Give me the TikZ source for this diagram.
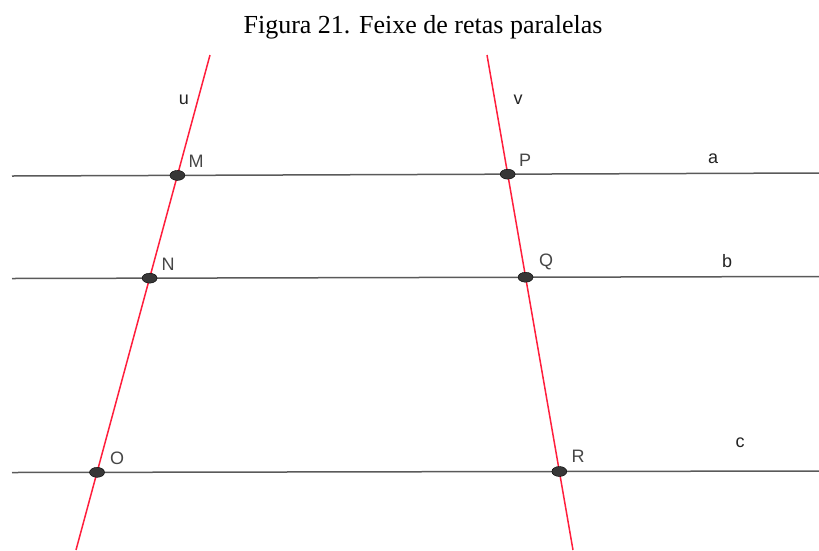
\documentclass[tikz,border=0pt]{standalone}
\usepackage{fontspec}
\setmainfont{Liberation Serif}
\setsansfont{Liberation Sans}
\usetikzlibrary{shapes.geometric}
\definecolor{linegray}{RGB}{90,90,90}
\definecolor{geored}{RGB}{255,30,60}
\definecolor{dotgray}{RGB}{55,55,55}
\definecolor{ptgray}{RGB}{70,70,70}
\definecolor{retagray}{RGB}{35,35,35}

\begin{document}
\begin{tikzpicture}[
    x=1pt, y=-1pt,
    paral/.style={draw=linegray, line width=1.5pt},
    transv/.style={draw=geored, line width=1.5pt},
    ponto/.style={ellipse, draw=black, fill=dotgray, minimum width=15pt, minimum height=10pt, inner sep=0pt},
    nomeponto/.style={font=\sffamily\fontsize{18}{20}\selectfont, text=ptgray, inner sep=0pt},
    nomereta/.style={font=\sffamily\fontsize{18}{20}\selectfont, text=retagray, inner sep=0pt},
]
    \useasboundingbox (0,0) rectangle (819,550);

    % Title
    \node[font=\fontsize{26}{29}\selectfont] (titulo) at (423,27) {Figura 21. Feixe de retas paralelas};

    % Parallel lines a, b, c
    \coordinate (a1) at (12,176);   \coordinate (a2) at (819,173);
    \coordinate (b1) at (12,278.5); \coordinate (b2) at (819,276.5);
    \coordinate (c1) at (12,472.5); \coordinate (c2) at (819,471);
    \draw[paral] (a1) -- (a2);
    \draw[paral] (b1) -- (b2);
    \draw[paral] (c1) -- (c2);

    % Transversals u and v
    \coordinate (u1) at (210,55);  \coordinate (u2) at (76,550);
    \coordinate (v1) at (487,55);  \coordinate (v2) at (573,550);
    \draw[transv] (u1) -- (u2);
    \draw[transv] (v1) -- (v2);

    % Intersection points
    \node[ponto] (M) at (intersection of a1--a2 and u1--u2) {};
    \node[ponto] (N) at (intersection of b1--b2 and u1--u2) {};
    \node[ponto] (O) at (intersection of c1--c2 and u1--u2) {};
    \node[ponto] (P) at (intersection of a1--a2 and v1--v2) {};
    \node[ponto] (Q) at (intersection of b1--b2 and v1--v2) {};
    \node[ponto] (R) at (intersection of c1--c2 and v1--v2) {};

    % Point labels
    \node[nomeponto] (lblM) at (196,161) {M};
    \node[nomeponto] (lblN) at (168,264) {N};
    \node[nomeponto] (lblO) at (117,458) {O};
    \node[nomeponto] (lblP) at (525,160) {P};
    \node[nomeponto] (lblQ) at (546,262) {Q};
    \node[nomeponto] (lblR) at (578,456) {R};

    % Line labels
    \node[nomereta] (lblu) at (184,100) {u};
    \node[nomereta] (lblv) at (518,100) {v};
    \node[nomereta] (lbla) at (713,159) {a};
    \node[nomereta] (lblb) at (727,261) {b};
    \node[nomereta] (lblc) at (740,443) {c};
\end{tikzpicture}
\end{document}
